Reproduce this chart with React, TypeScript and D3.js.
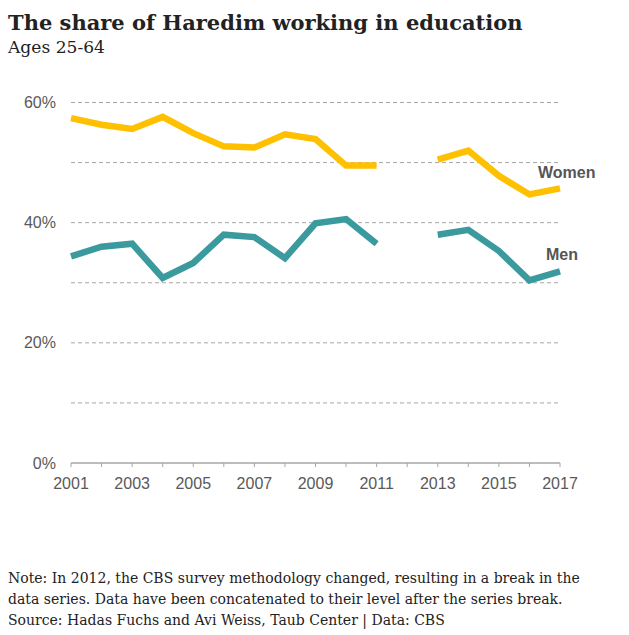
import * as d3 from "d3";

const years = d3.range(2001, 2018);
// 2012 is the break in the series (null)
const women = [57.4, 56.3, 55.6, 57.6, 54.9, 52.7, 52.5, 54.7, 53.9, 49.5, 49.5, null, 50.5, 52.0, 47.8, 44.7, 45.7];
const men = [34.4, 36.0, 36.5, 30.8, 33.3, 38.0, 37.6, 34.1, 39.9, 40.6, 36.5, null, 38.0, 38.8, 35.3, 30.4, 31.9];
const gridValues = [10, 20, 30, 40, 50, 60];
const labelValues = [0, 20, 40, 60];
const yearLabels = [2001, 2003, 2005, 2007, 2009, 2011, 2013, 2015, 2017];
const noteLines = [
  "Note: In 2012, the CBS survey methodology changed, resulting in a break in the",
  "data series. Data have been concatenated to their level after the series break.",
  "Source: Hadas Fuchs and Avi Weiss, Taub Center | Data: CBS",
];

const width = 629,
  height = 635;

const x = d3.scaleLinear().domain([2001, 2017]).range([71, 560]);
const y = d3.scaleLinear().domain([0, 60]).range([463, 102.5]);

const line = d3
  .line<number | null>()
  .defined((d) => d !== null)
  .x((d, i) => x(years[i]))
  .y((d) => y(d as number));

const sans = "Liberation Sans, Arial, sans-serif";
const serif = "DejaVu Serif, serif";

export default function App() {
  return (
    <svg width={width} height={height} style={{ position: "absolute", left: 0, top: 0 }}>
      <text x={8} y={30} fontFamily={serif} fontWeight="bold" fontSize={21} fill="#222">
        The share of Haredim working in education
      </text>
      <text x={8} y={53} fontFamily={serif} fontSize={17} fill="#222" textLength={97} lengthAdjust="spacingAndGlyphs">
        Ages 25-64
      </text>

      {gridValues.map((v) => (
        <line key={v} x1={x(2001)} x2={x(2017)} y1={y(v)} y2={y(v)} stroke="#a6a6a6" strokeWidth={1} strokeDasharray="4,3" />
      ))}
      {labelValues.map((v) => (
        <text key={v} x={56} y={y(v)} dy="0.35em" textAnchor="end" fontFamily={sans} fontSize={16} fill="#595959">
          {v}%
        </text>
      ))}

      <line x1={x(2001)} x2={x(2017)} y1={y(0)} y2={y(0)} stroke="#a6a6a6" strokeWidth={1.5} />
      {years.map((yr) => (
        <line key={yr} x1={x(yr)} x2={x(yr)} y1={y(0)} y2={y(0) + 4} stroke="#a6a6a6" strokeWidth={1} />
      ))}
      {yearLabels.map((yr) => (
        <text key={yr} x={x(yr)} y={489} textAnchor="middle" fontFamily={sans} fontSize={16} fill="#595959">
          {yr}
        </text>
      ))}

      <path d={line(women) || ""} fill="none" stroke="#ffc000" strokeWidth={6.5} strokeLinejoin="miter" />
      <path d={line(men) || ""} fill="none" stroke="#3a9a9e" strokeWidth={6.5} strokeLinejoin="miter" />

      <text x={538} y={178} fontFamily={sans} fontWeight="bold" fontSize={16} fill="#555">
        Women
      </text>
      <text x={546} y={260} fontFamily={sans} fontWeight="bold" fontSize={16} fill="#555">
        Men
      </text>

      {noteLines.map((t, i) => (
        <text key={i} x={8} y={583 + i * 21} fontFamily={serif} fontSize={14} fill="#222">
          {t}
        </text>
      ))}
    </svg>
  );
}
